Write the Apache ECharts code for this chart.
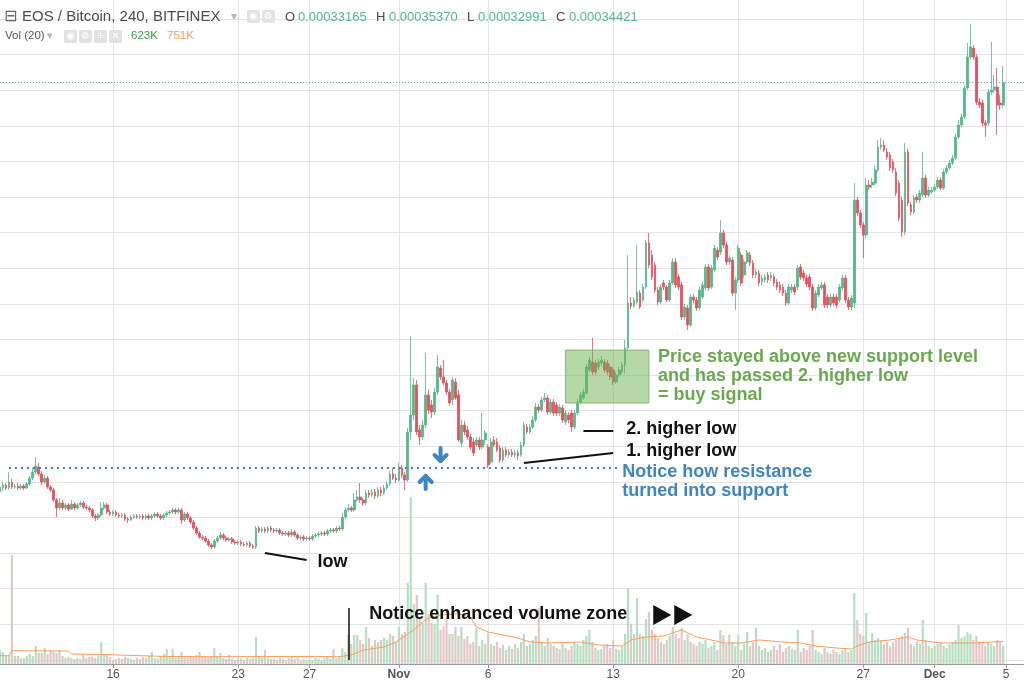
<!DOCTYPE html>
<html>
<head>
<meta charset="utf-8">
<title>EOS / Bitcoin, 240, BITFINEX</title>
<script src="https://cdn.jsdelivr.net/npm/echarts@6/dist/echarts.min.js"></script>
<style>
  html, body { margin: 0; padding: 0; background: #ffffff; }
  #chart { width: 1024px; height: 682px; }
</style>
</head>
<body>
<div id="chart"></div>
<script>
// EOS/BTC 4-hour candles (Bitfinex). Prices in satoshi, volume in thousands of EOS.
const startUtc = Date.UTC(2017, 9, 9, 16);   // first candle: 9 Oct 2017 16:00
const barHours = 4;
const slotCount = 345;                        // candle slots incl. empty room on the right

const tickDates  = ['2017-10-16', '2017-10-23', '2017-10-27', '2017-11-01', '2017-11-06',
                    '2017-11-13', '2017-11-20', '2017-11-27', '2017-12-01', '2017-12-05'];
const tickLabels = ['16', '23', '27', 'Nov', '6', '13', '20', '27', 'Dec', '5'];

// [open, close, low, high]
const candles = [
  [11430,11710,11310,11880],[11650,11820,11480,11990],
  [11820,11650,11540,11930],[11650,11990,11540,12550],[11990,11710,11600,12160],[11710,11760,11600,11880],[11760,11650,11540,11930],[11650,11760,11540,11880],
  [11760,11650,11540,11880],[11650,11880,11600,11990],[11880,12210,11760,12330],[12210,12550,12100,12780],[12550,12890,12440,13390],[12830,12440,12330,13060],
  [12440,11990,11820,12610],[11990,12210,11880,12380],[12210,11710,11600,12330],[11710,11540,11430,11820],[11540,10980,10870,11650],[10980,10530,10020,11090],
  [10530,10810,10420,11090],[10810,10530,10420,10980],[10530,10700,10420,10810],[10700,10470,10360,10810],[10470,10750,10420,10980],[10750,10530,10420,10870],
  [10530,10700,10420,10810],[10700,10810,10580,10920],[10810,10580,10470,10920],[10580,10530,10420,10700],[10530,10420,10300,10640],[10420,10080,9970,10530],
  [10080,9970,9800,10190],[9970,10130,9850,10250],[10130,10530,10020,10870],[10530,10700,10420,10870],[10700,10300,10190,10810],[10300,10190,10080,10420],
  [10190,10300,10080,10420],[10300,10130,10020,10420],[10130,10080,9970,10250],[10080,10130,9970,10250],[10130,9910,9800,10250],[9910,9850,9690,10020],
  [9850,10020,9800,10130],[10020,10080,9910,10190],[10080,10020,9910,10190],[10020,10080,9910,10190],[10080,9970,9850,10190],[9970,10080,9850,10190],
  [10080,9970,9850,10190],[9970,10080,9850,10190],[10080,10190,9970,10300],[10190,10080,9970,10300],[10080,9970,9850,10190],[9970,10130,9850,10250],
  [10130,10250,10020,10360],[10250,10300,10130,10420],[10300,10420,10190,10530],[10420,10300,10190,10530],[10300,10420,10190,10580],[10420,9850,9630,10530],
  [9850,10190,9740,10300],[10190,9970,9850,10300],[9970,9740,9630,10080],[9740,9400,9290,9850],[9400,9120,9010,9520],[9120,8900,8790,9240],
  [8900,8840,8730,9010],[8840,8670,8560,8950],[8670,8450,8340,8790],[8450,8340,8220,8560],[8340,8670,8220,8790],[8670,8840,8560,8950],
  [8840,9010,8730,9180],[9010,8840,8730,9120],[8840,8730,8620,8950],[8730,8790,8620,8900],[8790,8620,8500,8900],[8620,8560,8450,8730],
  [8560,8620,8450,8730],[8620,8500,8390,8730],[8500,8450,8340,8620],[8450,8560,8340,8670],[8560,8390,8280,8670],[8390,8340,8220,8500],
  [8340,9400,8220,9520],[9400,9240,9120,9520],[9240,9350,9120,9460],[9350,9240,9120,9460],[9240,9400,9120,9520],[9400,9290,9180,9520],
  [9290,9240,9120,9400],[9240,9290,9120,9400],[9290,9120,9010,9400],[9120,9070,8950,9240],[9070,9120,8950,9240],[9120,9010,8900,9240],
  [9010,9180,8900,9350],[9180,9010,8900,9290],[9010,8840,8730,9120],[8840,8900,8730,9010],[8900,8790,8670,9010],[8790,8840,8670,8950],
  [8840,8790,8670,8950],[8790,8950,8670,9070],[8950,9010,8840,9120],[9010,9070,8900,9180],[9070,9120,8950,9240],[9120,9070,8950,9240],
  [9070,9240,8950,9350],[9240,9290,9120,9400],[9290,9240,9120,9400],[9240,9400,9120,9520],[9400,9350,9240,9520],[9350,10020,9240,10250],
  [10020,10420,9910,10530],[10420,10530,10300,10750],[10530,10420,10300,10640],[10420,10980,10300,11370],[10980,11150,10870,11540],[11150,10980,10810,11930],
  [10980,10810,10640,11090],[10810,11370,10700,11540],[11370,11260,11090,11540],[11260,11430,11150,11600],[11430,11200,11030,11600],[11200,11540,11090,11710],
  [11540,11370,11200,11710],[11370,11650,11260,11820],[11650,11880,11540,12040],[11880,12440,11760,12610],[12440,12210,12100,12780],[12210,12100,11930,12440],
  [12100,12780,11990,13060],[12780,12380,12210,12940],[12380,12100,11540,12550],[12100,14800,11990,15020],[14800,15750,14350,20190],[15750,17440,15470,17830],
  [17440,14800,14630,17720],[14910,14520,14070,15190],[14520,15190,14350,15470],[15190,16880,15020,19240],[16880,16030,15810,17160],[16310,15920,15580,16600],
  [15920,17040,15750,17270],[17040,18450,16880,19120],[18390,17890,17720,18560],[17890,17550,17440,18840],[17550,17040,16880,17720],[17040,16430,16260,17210],
  [16600,17720,16310,17890],[17610,16710,16600,17830],[16880,14350,14240,17160],[14180,15190,13950,15470],[15190,14800,14630,15420],[14910,14520,14350,15130],
  [14520,13950,13790,14690],[14240,13620,13450,14460],[14070,14350,13950,14520],[14350,13950,13790,14520],[13950,14350,13840,15860],[14350,14740,14070,14910],
  [13950,12940,12780,14120],[13110,14240,13000,14460],[14350,14070,13950,14570],[14240,13790,13670,14460],[13900,13220,13060,14070],[13220,13790,13110,13950],
  [13790,13510,13390,13950],[13510,13670,13340,13840],[13670,13510,13390,13840],[13510,13620,13340,13790],[13620,13450,13220,13790],[13510,14070,13390,14240],
  [14070,15190,13950,15360],[15080,14800,14690,15250],[14800,15080,14690,15250],[15080,15470,14970,15700],[15470,16200,15360,16430],[16200,16030,15860,16370],
  [16030,16600,15920,16770],[16600,16710,16480,16990],[16710,15920,15750,16880],[15920,16480,15810,16650],[16480,15860,15700,16650],[16310,15860,15700,16480],
  [15860,16200,15700,16370],[16150,15470,15300,16310],[15360,15860,15190,16030],[15750,15470,15300,15920],[15860,15080,14800,16030],[15080,15860,14970,16030],
  [15860,16480,15750,16650],[16480,16880,16370,17040],[16710,17040,16600,17210],[16990,18450,16880,18620],[18280,18840,18170,19010],[18730,18170,18000,20080],
  [18670,18170,18000,18840],[18450,18730,18280,18900],[18670,18840,18500,19070],[18730,18280,18110,18900],[18670,18170,18000,18840],[18450,17890,17720,18620],
  [18280,17610,17440,18450],[17610,18000,17500,18170],[18000,18280,17890,18450],[18170,18560,18060,18730],[18560,19520,18060,19970],[19520,22040,19400,24740],
  [22040,21880,21710,22380],[21880,22210,21760,22380],[22100,22660,21990,25300],[22610,21820,21710,22770],[22210,22940,22100,23110],[22940,25420,22830,25580],
  [25420,24180,24010,25980],[24740,23510,23340,25020],[24180,22770,22610,24350],[22770,22100,21930,22940],[22100,22940,21990,23110],[23170,22940,22770,23340],
  [22940,22210,22100,23050],[22210,23170,22100,23340],[23170,24350,23060,24570],[24350,23060,22890,24570],[23510,22940,22770,23670],[23060,21260,21090,23230],
  [21260,21820,21090,21990],[21760,20810,20530,21930],[20810,22380,20700,22550],[22380,22210,22040,22550],[22210,21760,21600,22380],[21760,22770,21650,22940],
  [22380,23060,22270,23230],[22890,24070,22770,24240],[24070,22890,22720,24240],[22940,24010,22830,24180],[23900,25130,23790,25300],[25020,24630,24460,25190],
  [24910,25980,24740,26710],[25980,25300,25130,26150],[25300,24350,24180,25470],[24350,24570,24180,24740],[24460,22610,22440,24630],[22610,23340,21650,23510],
  [23340,25130,23170,25300],[24740,23170,23000,24910],[23620,24350,23450,24520],[24350,24850,24240,25020],[24740,24290,24120,24910],[24290,23620,23450,24460],
  [23620,23790,23450,23950],[23730,23170,23000,23900],[23230,23450,23060,23620],[23340,23510,23170,23670],[23620,23340,23170,23790],[23450,23620,23280,23790],
  [23510,23170,23000,23670],[23230,22940,22770,23390],[23060,22770,22610,23230],[22940,22610,22440,23110],[22610,22040,21880,22770],[22040,22940,21930,23110],
  [22770,22940,22610,23110],[22940,22660,22490,23110],[22940,24010,22770,24180],[24070,23510,23340,24240],[23730,23450,23280,23900],[23450,23110,22940,23620],
  [23510,22940,22770,23670],[22940,21760,21600,23110],[21760,22610,21650,22770],[22490,22940,22380,23110],[22890,23060,22770,23230],[23060,21930,21760,23230],
  [22380,21930,21760,22550],[21930,22380,21820,22550],[22380,22040,21880,22550],[22380,21930,21760,22550],[22210,22940,22100,23110],[22890,23450,22770,23620],
  [23450,22210,22040,23620],[22210,21820,21650,22380],[21820,22320,21650,22490],[22040,27830,21760,28780],[27830,27100,26930,28000],[27100,26430,26260,27270],
  [26430,25860,24570,26600],[25860,28670,25700,29070],[28670,28560,28390,28950],[28670,28840,28500,29070],[28780,29520,28670,29740],[29520,30810,29400,31200],
  [30810,30920,30640,31310],[30920,30640,30530,31200],[30530,30250,30080,30750],[30360,29630,29460,30530],[29970,29520,29350,30130],[29400,28220,28060,29630],
  [28780,26820,26650,28950],[27830,26030,25750,28000],[26030,30530,25860,31030],[30530,27660,27490,30700],[27550,27160,26990,27720],[27160,27940,27040,28110],
  [28000,27830,27660,28170],[27830,28220,27660,28390],[28110,29070,28000,30530],[29070,28110,27940,29240],[28110,28390,28000,28560],[28280,28390,28170,28560],
  [28390,28560,28280,28730],[28560,28950,28450,29120],[28950,28500,28390,29120],[28500,29400,28390,29570],[29400,29630,29290,29800],[29630,29910,29520,30080],
  [29910,30190,29800,30360],[30190,31370,30080,31540],[31370,32040,31260,32330],[32040,32490,31930,32660],[32490,34120,32380,34290],[34120,35860,34010,36650],
  [35860,36430,35750,37720],[36370,35860,35700,36540],[35860,33340,33170,36030],[33340,33170,33000,33560],[33280,32160,31990,33450],[32160,32040,31370,32330],
  [32160,33900,31990,34070],[33900,34010,33730,36710],[34010,34180,33840,34850],[34180,33170,31480,35250],[33280,33170,32890,33730],[33165,34421,32991,35370]
];

// volume per candle, thousands
const volumes = [
  469,402,
  302,302,3652,268,268,201,
  201,268,335,268,603,369,
  369,536,335,469,402,369,
  469,268,201,235,201,168,
  201,168,302,201,235,235,
  201,268,737,335,302,235,
  134,168,201,168,235,201,
  168,134,201,168,235,201,
  268,402,201,168,235,335,
  503,268,503,201,268,402,
  235,201,268,235,302,402,
  268,235,201,235,536,268,
  369,201,168,302,168,134,
  201,168,134,201,168,201,
  905,268,201,469,201,168,
  168,134,201,168,134,201,
  235,168,201,134,168,134,
  168,134,201,168,134,201,
  268,168,503,201,268,536,
  402,972,670,972,972,804,
  670,1240,871,603,804,737,
  804,871,804,1005,938,737,
  1240,1005,1072,2714,5595,2010,
  2312,1508,1374,2714,1675,1374,
  1340,2312,1139,1273,1541,1005,
  1005,1240,938,1240,838,938,
  670,737,1206,603,804,670,
  1039,670,603,737,536,637,
  469,603,503,670,536,737,
  1005,603,670,804,938,1876,
  737,603,871,670,603,536,
  503,670,536,469,603,737,
  670,603,804,938,1139,737,
  536,469,503,603,670,536,
  804,503,469,603,1005,2546,
  1340,1005,2211,1005,938,1508,
  1742,1139,1005,871,737,670,
  804,938,1240,1005,871,1206,
  804,1005,737,670,603,737,
  670,804,536,603,737,469,
  1139,972,670,972,737,603,
  972,469,670,1072,603,737,
  1206,603,469,536,402,469,
  603,469,670,402,536,603,
  503,469,1139,402,536,469,
  603,1139,469,402,335,536,
  402,335,469,402,335,469,
  536,402,469,2379,1474,1005,
  938,1709,737,1039,804,871,
  804,670,737,603,737,804,
  871,938,1039,1206,670,603,
  737,670,1474,804,603,536,
  603,670,737,603,536,670,
  737,804,1307,871,938,1072,
  1005,804,938,737,670,603,
  737,670,603,804,737,623
];

// Vol (20) moving-average line, [candle index, thousands]
const volMaPoints = [
  [0,278],[3,278],[4,446],[23,436],[24,335],[34,318],[45,285],[56,251],[78,245],[101,251],
  [114,245],[118,300],[122,469],[129,570],[133,737],[139,1139],[142,1407],[144,1541],[148,1642],
  [154,1675],[158,1575],[160,1240],[164,1072],[169,972],[174,871],[178,737],[184,704],[195,737],
  [201,637],[209,603],[212,804],[217,905],[223,938],[229,1139],[234,905],[239,804],[243,704],
  [249,704],[255,804],[263,737],[269,704],[274,603],[281,536],[286,503],[288,603],[292,737],
  [299,804],[305,905],[308,804],[316,704],[327,704],[333,737],[337,751]
];

const UP = '#53b987', DOWN = '#eb4d5c';
const VOL_UP = '#b6dfc1', VOL_DOWN = '#e4c6c6';
const GRID_LINE = '#e4e4e4';
const FONT = '"Liberation Sans", Arial, sans-serif';

const pad = n => String(n).padStart(2, '0');
const times = [];
for (let k = 0; k < slotCount; k++) {
  const d = new Date(startUtc + k * barHours * 3600000);
  times.push(d.getUTCFullYear() + '-' + pad(d.getUTCMonth() + 1) + '-' + pad(d.getUTCDate()) + ' ' + pad(d.getUTCHours()) + ':00');
}
const tickMap = {};
tickDates.forEach((d, j) => { tickMap[d + ' 00:00'] = tickLabels[j]; });
const onTick = (idx, val) => Object.prototype.hasOwnProperty.call(tickMap, val);

const volData = volumes.map((v, k) => ({
  value: v,
  itemStyle: { color: candles[k][1] >= candles[k][0] ? VOL_UP : VOL_DOWN }
}));
const maData = new Array(slotCount).fill(null);
volMaPoints.forEach(([k, v]) => { maData[k] = v; });

const last = candles[candles.length - 1];
const lastVol = volumes[volumes.length - 1];
const lastMa = volMaPoints[volMaPoints.length - 1][1];

const supportLevel = 12780;
const blackLine = { color: '#111111', width: 2, type: 'solid' };

const chart = echarts.init(document.getElementById('chart'));
chart.setOption({
  animation: false,
  backgroundColor: '#ffffff',
  textStyle: { fontFamily: FONT },
  grid: [
    { left: 0, right: 0, top: 19, height: 640.8, outerBoundsMode: 'none' },
    { left: 0, right: 0, top: 0, height: 664, outerBoundsMode: 'none' }
  ],
  xAxis: [
    { gridIndex: 0, type: 'category', data: times, boundaryGap: false, show: false },
    {
      gridIndex: 1, type: 'category', data: times, boundaryGap: false,
      axisLine: { show: true, lineStyle: { color: '#9a9a9a', width: 1 } },
      axisTick: { show: true, interval: onTick, length: 4, lineStyle: { color: '#9a9a9a' } },
      axisLabel: {
        show: true, interval: onTick, margin: 5, color: '#555555', fontSize: 12, fontFamily: FONT,
        formatter: v => {
          const t = tickMap[v];
          if (!t) return '';
          return /^[A-Za-z]/.test(t) ? '{m|' + t + '}' : t;
        },
        rich: { m: { fontWeight: 'bold', color: '#555555', fontSize: 12, fontFamily: FONT } }
      },
      splitLine: { show: true, interval: onTick, lineStyle: { color: GRID_LINE, width: 1 } }
    }
  ],
  yAxis: [
    {
      gridIndex: 0, type: 'value', min: 2000, max: 38000, interval: 2000,
      axisLine: { show: false }, axisTick: { show: false }, axisLabel: { show: false },
      splitLine: { show: true, lineStyle: { color: GRID_LINE, width: 1 } }
    },
    {
      gridIndex: 1, type: 'value', min: 0, max: 22244, show: false,
      splitLine: { show: false }
    }
  ],
  series: [
    {
      type: 'bar', name: 'Volume', xAxisIndex: 1, yAxisIndex: 1, data: volData,
      barWidth: 2.2, z: 1, silent: true,
      markLine: {
        silent: true, symbol: ['none', 'none'], animation: false, label: { show: false },
        data: [[
          { coord: [117, 1876], lineStyle: { color: '#111111', width: 1.5, type: 'solid' } },
          { coord: [117, 134], lineStyle: { color: '#111111', width: 1.5, type: 'solid' } }
        ]]
      }
    },
    {
      type: 'line', name: 'Vol MA 20', xAxisIndex: 1, yAxisIndex: 1, data: maData,
      connectNulls: true, showSymbol: false, symbol: 'none', z: 3, silent: true,
      lineStyle: { color: '#fb9c5c', width: 1 }
    },
    {
      type: 'candlestick', name: 'EOS/BTC', xAxisIndex: 0, yAxisIndex: 0, data: candles,
      barWidth: 2.2, z: 4, silent: true,
      itemStyle: { color: UP, color0: DOWN, borderColor: UP, borderColor0: DOWN, borderWidth: 0.8 },
      markLine: {
        silent: true, symbol: ['none', 'none'], animation: false, label: { show: false },
        data: [
          { yAxis: last[1], lineStyle: { color: UP, width: 1, type: [1, 2] } },
          [
            { coord: [3, supportLevel], lineStyle: { color: '#3c78d8', width: 2, type: [2, 4] } },
            { coord: [208, supportLevel], lineStyle: { color: '#3c78d8', width: 2, type: [2, 4] } }
          ],
          [{ coord: [89, 8000], lineStyle: blackLine }, { coord: [103, 7610], lineStyle: blackLine }],
          [{ coord: [196, 14850], lineStyle: blackLine }, { coord: [206, 14850], lineStyle: blackLine }],
          [{ coord: [176, 13060], lineStyle: blackLine }, { coord: [206, 13620], lineStyle: blackLine }]
        ]
      }
    }
  ]
});

// ---- annotations and legend, placed from data anchors ----
const P = (k, v) => chart.convertToPixel({ gridIndex: 0 }, [k, v]);
const PV = (k, v) => chart.convertToPixel({ gridIndex: 1 }, [k, v]);
const bold = 'bold 18px ' + FONT;

function txt(x, y, text, fill, font, extra) {
  return {
    type: 'text', x: x, y: y, silent: true, z: 100,
    style: Object.assign({
      text: text, fill: fill, font: font,
      align: 'left', verticalAlign: 'middle', textAlign: 'left', textVerticalAlign: 'middle'
    }, extra || {})
  };
}
function arrow(cx, cy, dir) {
  const s = dir; // 1 = down, -1 = up
  return {
    type: 'group', silent: true, z: 100,
    children: [
      { type: 'polyline', shape: { points: [[cx, cy - 7 * s], [cx, cy + 6 * s]] },
        style: { stroke: '#3d85c6', lineWidth: 4, lineCap: 'round', fill: null } },
      { type: 'polyline', shape: { points: [[cx - 6, cy], [cx, cy + 6 * s], [cx + 6, cy]] },
        style: { stroke: '#3d85c6', lineWidth: 4, lineCap: 'round', lineJoin: 'round', fill: null } }
    ]
  };
}

const boxA = P(190, 19400), boxB = P(218, 16430);
const lowEnd = P(103, 7610);
const hl2End = P(206, 14850);
const hl1End = P(206, 13620);
const supEnd = P(208, supportLevel);
const downArrow = P(148, 13505);
const upArrow = P(143, 11990);
const zoneTop = PV(117, 1876);
const zoneText = PV(117, 1675);

const fmt = v => (v / 1e8).toFixed(8);
const legendFont = '13px ' + FONT;
const smallFont = '11.5px ' + FONT;
const iconBox = (x, y, glyph) => ([
  { type: 'rect', silent: true, z: 100, shape: { x: x, y: y, width: 13, height: 13, r: 2 }, style: { fill: '#e2e2e2' } },
  txt(x + 6.5, y + 6.5, glyph, '#ffffff', '10px "DejaVu Sans"', { align: 'center', textAlign: 'center' })
]);

const graphics = [
  { type: 'rect', silent: true, z: 90,
    shape: { x: boxA[0], y: boxA[1], width: boxB[0] - boxA[0], height: boxB[1] - boxA[1] },
    style: { fill: 'rgba(109,175,81,0.5)', stroke: '#86bb6c', lineWidth: 1 } },
  txt(lowEnd[0] + 11, lowEnd[1] + 2, 'low', '#111111', bold),
  txt(hl2End[0] + 13, hl2End[1] - 2, '2. higher low', '#111111', bold),
  txt(hl1End[0] + 13, hl1End[1] - 2, '1. higher low', '#111111', bold),
  txt(supEnd[0] + 3, supEnd[1] - 5.5, 'Notice how resistance\nturned into support', '#3d85c6', bold,
      { verticalAlign: 'top', textVerticalAlign: 'top', lineHeight: 19 }),
  txt(boxB[0] + 9, boxA[1] - 2.5, 'Price stayed above new support level\nand has passed 2. higher low\n= buy signal', '#6aa84f', bold,
      { verticalAlign: 'top', textVerticalAlign: 'top', lineHeight: 19 }),
  arrow(downArrow[0], downArrow[1], 1),
  arrow(upArrow[0], upArrow[1], -1),
  txt(zoneTop[0] + 21, zoneText[1], 'Notice enhanced volume zone', '#111111', bold),
  { type: 'polygon', silent: true, z: 100,
    shape: { points: [[zoneTop[0] + 305, zoneTop[1] - 3], [zoneTop[0] + 323, zoneTop[1] + 7], [zoneTop[0] + 305, zoneTop[1] + 17]] },
    style: { fill: '#111111' } },
  { type: 'polygon', silent: true, z: 100,
    shape: { points: [[zoneTop[0] + 326, zoneTop[1] - 3], [zoneTop[0] + 344, zoneTop[1] + 7], [zoneTop[0] + 326, zoneTop[1] + 17]] },
    style: { fill: '#111111' } },

  // legend row 1
  txt(4, 17, '\u229F', '#666666', '16px "DejaVu Sans"'),
  txt(22, 17, 'EOS / Bitcoin, 240, BITFINEX', '#4c4c4c', '15px ' + FONT),
  txt(231, 17, '\u25BE', '#b5b5b5', '12px "DejaVu Sans"'),
  ...iconBox(247, 10, '\u25C9'),
  ...iconBox(262, 10, '\u2699'),
  txt(285, 17, 'O', '#4c4c4c', legendFont),
  txt(298, 17, fmt(last[0]), UP, legendFont),
  txt(376, 17, 'H', '#4c4c4c', legendFont),
  txt(389, 17, fmt(last[3]), UP, legendFont),
  txt(467, 17, 'L', '#4c4c4c', legendFont),
  txt(478, 17, fmt(last[2]), UP, legendFont),
  txt(556, 17, 'C', '#4c4c4c', legendFont),
  txt(569, 17, fmt(last[1]), UP, legendFont),

  // legend row 2
  txt(5, 36, 'Vol (20)', '#555555', smallFont),
  txt(47, 36, '\u25BE', '#b5b5b5', '11px "DejaVu Sans"'),
  ...iconBox(64, 30, '\u25C9'),
  ...iconBox(79, 30, '\u2699'),
  ...iconBox(94, 30, '+'),
  ...iconBox(109, 30, '\u2715'),
  txt(131, 36, lastVol + 'K', '#3a9b48', smallFont),
  txt(167, 36, lastMa + 'K', '#fb9c5c', smallFont)
];

chart.setOption({ graphic: graphics });
</script>
</body>
</html>
